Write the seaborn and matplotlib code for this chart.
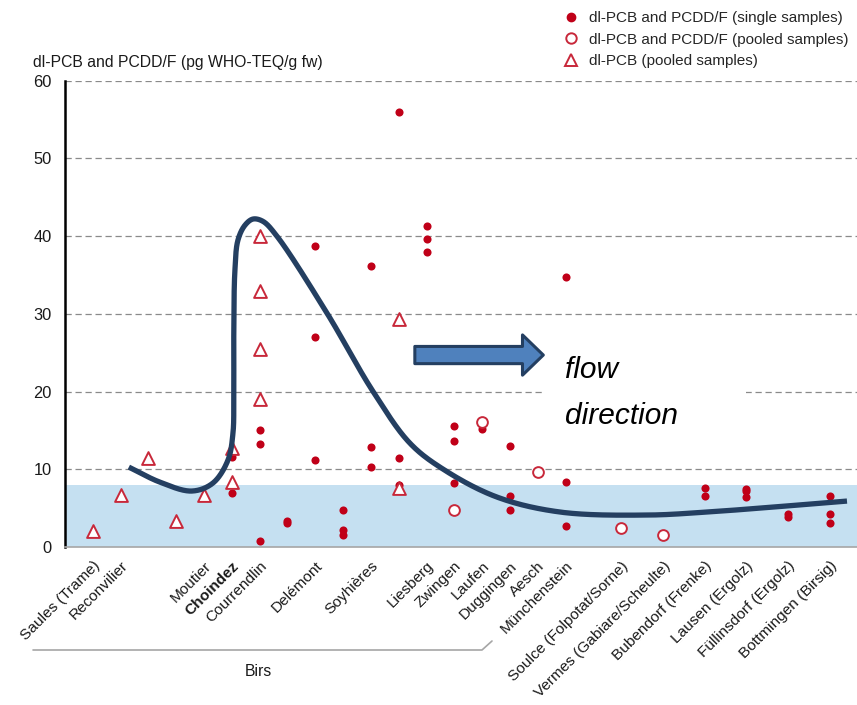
import numpy as np
import pandas as pd
import matplotlib
matplotlib.use("Agg")
import matplotlib.pyplot as plt
import seaborn as sns
from matplotlib.lines import Line2D
from matplotlib.patches import FancyArrowPatch, Rectangle

sns.set_theme(style="white")
plt.rcParams["font.family"] = ["Liberation Sans", "DejaVu Sans"]

# ---------------- data ----------------
sites = ["Saules (Trame)", "Reconvilier", "", "", "Moutier", "Choindez", "Courrendlin",
         "", "Delémont", "", "Soyhières", "", "Liesberg", "Zwingen", "Laufen",
         "Duggingen", "Aesch", "Münchenstein", "Soulce (Folpotat/Sorne)",
         "Vermes (Gabiare/Scheulte)", "Bubendorf (Frenke)", "Lausen (Ergolz)",
         "Füllinsdorf (Ergolz)", "Bottmingen (Birsig)"]
site_order = [0, 1, 2, 3, 4, 5, 6, 7, 8, 9, 10, 11, 12, 13, 14, 15, 16, 17,
              19, 20.5, 22, 23.5, 25, 26.5]

# dl-PCB and PCDD/F, single samples (site index, value)
single_site = [5, 5, 6, 6, 6, 7, 7, 8, 8, 8, 9, 9, 9, 10, 10, 10, 11, 11, 11,
               12, 12, 12, 13, 13, 13, 14, 15, 15, 15, 17, 17, 17,
               20, 20, 21, 21, 21, 22, 22, 23, 23, 23]
single_val = [11.6, 6.9, 15.1, 13.3, 0.8, 3.4, 3.1, 38.7, 27.0, 11.2, 4.7, 2.2, 1.5,
              36.2, 12.9, 10.3, 56.0, 11.5, 8.0, 41.3, 39.6, 38.0, 15.6, 13.7, 8.2,
              15.2, 13.0, 6.6, 4.8, 34.7, 8.4, 2.7,
              7.6, 6.6, 7.5, 7.2, 6.4, 4.3, 3.8, 6.5, 4.2, 3.1]

# dl-PCB and PCDD/F, pooled samples
pooled_site = [13, 14, 16, 18, 19]
pooled_val = [4.7, 16.1, 9.6, 2.5, 1.6]

# dl-PCB, pooled samples
pcb_site = [0, 1, 2, 3, 4, 5, 5, 6, 6, 6, 6, 11, 11]
pcb_val = [2.1, 6.7, 11.4, 3.3, 6.7, 12.7, 8.3, 40.0, 32.9, 25.5, 19.1, 29.4, 7.6]

# hand-drawn trend sketch (control points in axis units)
trend_x = [1.295, 2.41, 3.56, 4.32, 4.86, 5.04, 5.07, 5.07, 5.11, 5.22, 5.47, 5.76,
           6.12, 6.62, 8.42, 10.07, 11.40, 12.59, 14.53, 16.80, 19.93, 22.09, 24.46, 27.12]
trend_y = [10.28, 8.35, 7.20, 8.23, 11.18, 14.65, 18.9, 27.5, 35.6, 39.5, 41.4, 42.2,
           41.9, 40.0, 30.1, 20.05, 13.37, 10.03, 6.43, 4.50, 4.11, 4.50, 5.14, 5.91]

reference_level = 8

labels = ["dl-PCB and PCDD/F (single samples)",
          "dl-PCB and PCDD/F (pooled samples)",
          "dl-PCB (pooled samples)"]

# ---------------- helpers ----------------
def catmull_rom(px, py, sx, sy, n=40, alpha=0.5):
    P = np.column_stack([np.asarray(px) * sx, np.asarray(py) * sy])
    P = np.vstack([2 * P[0] - P[1], P, 2 * P[-1] - P[-2]])
    out = []
    for i in range(len(P) - 3):
        p0, p1, p2, p3 = P[i:i + 4]
        t0 = 0.0
        t1 = t0 + np.linalg.norm(p1 - p0) ** alpha
        t2 = t1 + np.linalg.norm(p2 - p1) ** alpha
        t3 = t2 + np.linalg.norm(p3 - p2) ** alpha
        t = np.linspace(t1, t2, n)[:, None]
        A1 = (t1 - t) / (t1 - t0) * p0 + (t - t0) / (t1 - t0) * p1
        A2 = (t2 - t) / (t2 - t1) * p1 + (t - t1) / (t2 - t1) * p2
        A3 = (t3 - t) / (t3 - t2) * p2 + (t - t2) / (t3 - t2) * p3
        B1 = (t2 - t) / (t2 - t0) * A1 + (t - t0) / (t2 - t0) * A2
        B2 = (t3 - t) / (t3 - t1) * A2 + (t - t1) / (t3 - t1) * A3
        C = (t2 - t) / (t2 - t1) * B1 + (t - t1) / (t2 - t1) * B2
        out.append(C)
    C = np.vstack(out)
    return C[:, 0] / sx, C[:, 1] / sy

pos = np.array(site_order, dtype=float)
df_single = pd.DataFrame({"x": pos[single_site], "y": single_val})
df_pooled = pd.DataFrame({"x": pos[pooled_site], "y": pooled_val})
df_pcb = pd.DataFrame({"x": pos[pcb_site], "y": pcb_val})

# ---------------- figure ----------------
W, H = 857, 705
FS = 11.3
fig = plt.figure(figsize=(W / 100, H / 100), dpi=100)
ax = fig.add_axes([65 / W, 1 - 547 / H, (W - 65) / W, (547 - 80.7) / H])

ax.set_xlim(-1.0, 27.48)
ax.set_ylim(0, 60)

red = "#C00018"
red_open = "#C8283A"
navy = "#243F61"

ax.axhspan(0, reference_level, color="#C5E0F1", zorder=0.5, lw=0)
for v in [10, 20, 30, 40, 50, 60]:
    ax.axhline(v, color="#8a8a8a", lw=0.9, ls=(0, (5, 3)), zorder=0.8)

# white text box behind "flow direction"
ax.add_patch(Rectangle((16.2, 15.0), 7.3, 11.0, facecolor="white", edgecolor="none", zorder=0.9))

sns.scatterplot(data=df_single, x="x", y="y", ax=ax, marker="o", s=34, color=red,
                edgecolor=red, linewidth=0, zorder=5, legend=False)
sns.scatterplot(data=df_pooled, x="x", y="y", ax=ax, marker="o", s=60, facecolor="white",
                edgecolor=red_open, linewidth=1.4, zorder=5, legend=False)
sns.scatterplot(data=df_pcb, x="x", y="y", ax=ax, marker="^", s=85, facecolor="white",
                edgecolor=red_open, linewidth=1.4, zorder=5, legend=False)

# trend sketch
cx, cy = catmull_rom(trend_x, trend_y, 27.8, 7.78)
ax.plot(cx, cy, color=navy, lw=3.8, solid_capstyle="butt", zorder=6)

# flow arrow
arr = FancyArrowPatch((11.58, 24.7), (16.2, 24.7),
                      arrowstyle="simple,head_length=0.75,head_width=1.45,tail_width=0.62",
                      mutation_scale=20, facecolor="#4F81BD", edgecolor=navy, lw=2.2,
                      shrinkA=0, shrinkB=0, zorder=7)
ax.add_patch(arr)
ax.text(16.98, 22.8, "flow", fontsize=21.5, style="italic", color="black",
        ha="left", va="center", zorder=8)
ax.text(16.98, 16.9, "direction", fontsize=21.5, style="italic", color="black",
        ha="left", va="center", zorder=8)

# axes styling
for sp in ["top", "right"]:
    ax.spines[sp].set_visible(False)
ax.spines["left"].set_color("black")
ax.spines["left"].set_linewidth(1.8)
ax.spines["bottom"].set_color("#a6a6a6")
ax.spines["bottom"].set_linewidth(1.2)
ax.set_yticks([0, 10, 20, 30, 40, 50, 60])
ax.tick_params(axis="y", length=0, pad=9.5, labelsize=11.8, labelcolor="#1a1a1a")
ax.set_xticks(pos)
ax.set_xticklabels(sites, rotation=45, ha="right", va="top", rotation_mode="anchor",
                   fontsize=11.1, color="#1a1a1a")
ax.tick_params(axis="x", length=0, pad=8.5)
for lab in ax.get_xticklabels():
    if lab.get_text() == "Choindez":
        lab.set_fontweight("bold")
ax.set_xlabel("")
ax.set_ylabel("")

fig.text(33 / W, 1 - 62 / H, "dl-PCB and PCDD/F (pg WHO-TEQ/g fw)", fontsize=FS,
         ha="left", va="center", color="#1a1a1a")

# bracket for Birs
fig.add_artist(Line2D([33 / W, 482 / W, 492 / W], [1 - 650 / H, 1 - 650 / H, 1 - 641 / H],
                      color="#a6a6a6", lw=1.2))
fig.text(258 / W, 1 - 672 / H, "Birs", fontsize=FS, ha="center", va="center", color="#1a1a1a")

# legend
handles = [
    Line2D([], [], ls="none", marker="o", markersize=6, markerfacecolor=red, markeredgecolor=red),
    Line2D([], [], ls="none", marker="o", markersize=7.5, markerfacecolor="white",
           markeredgecolor=red_open, markeredgewidth=1.4),
    Line2D([], [], ls="none", marker="^", markersize=9, markerfacecolor="white",
           markeredgecolor=red_open, markeredgewidth=1.4),
]
fig.legend(handles, labels, loc="upper left", bbox_to_anchor=(553 / W, 1 - 5 / H),
           frameon=False, fontsize=11.0, handletextpad=0.35, labelspacing=0.5,
           borderaxespad=0, handlelength=1.6)

fig.savefig("out.png", dpi=100)
